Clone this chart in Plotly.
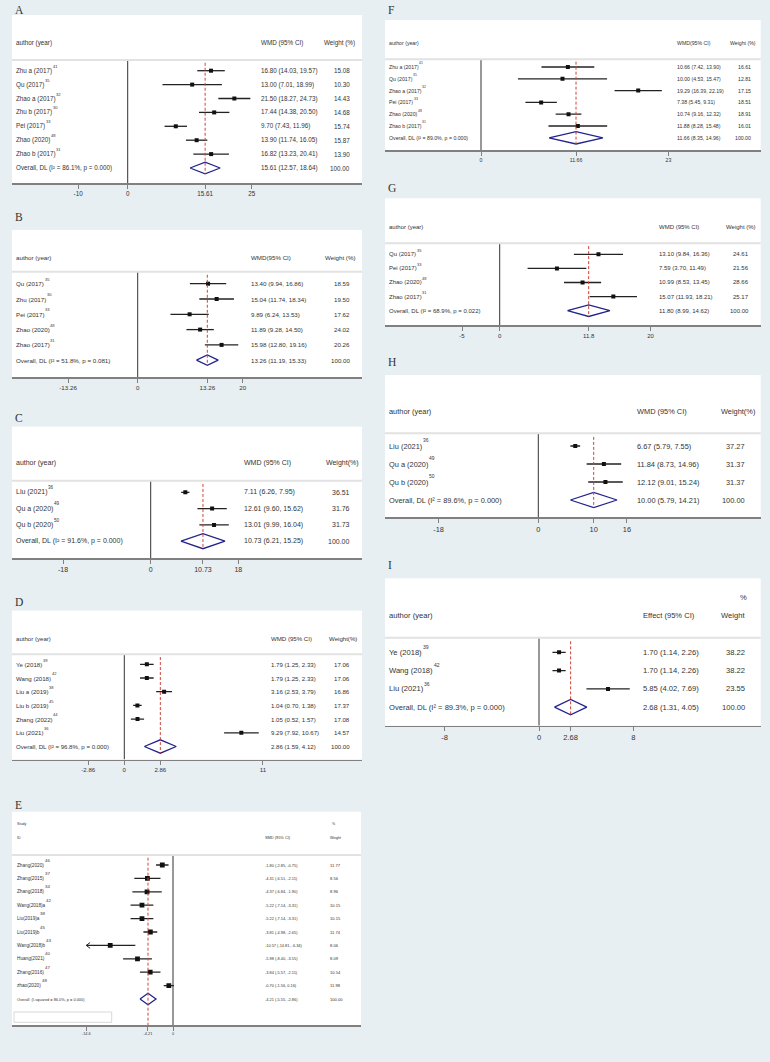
import plotly.graph_objects as go

W, H = 770, 1062

# ------------------------- DATA -------------------------
A_labels = ["Zhu a (2017)", "Qu (2017)", "Zhao a (2017)", "Zhu b (2017)", "Pei (2017)", "Zhao (2020)", "Zhao b (2017)"]
A_refs = [41, 35, 32, 30, 33, 48, 31]
A_est = [16.80, 13.00, 21.50, 17.44, 9.70, 13.90, 16.82]
A_lo = [14.03, 7.01, 18.27, 14.38, 7.43, 11.74, 13.23]
A_hi = [19.57, 18.99, 24.73, 20.50, 11.96, 16.05, 20.41]
A_wt = [15.08, 10.30, 14.43, 14.68, 15.74, 15.87, 13.90]
A_overall = [15.61, 12.57, 18.64]
A_stats = ["86.1%", "0.000"]
A_ticks = [-10, 0, 15.61, 25]
A_ticktext = ["-10", "0", "15.61", "25"]

B_labels = ["Qu (2017)", "Zhu (2017)", "Pei (2017)", "Zhao (2020)", "Zhao (2017)"]
B_refs = [35, 30, 33, 48, 31]
B_est = [13.40, 15.04, 9.89, 11.89, 15.98]
B_lo = [9.94, 11.74, 6.24, 9.28, 12.80]
B_hi = [16.86, 18.34, 13.53, 14.50, 19.16]
B_wt = [18.59, 19.50, 17.62, 24.02, 20.26]
B_overall = [13.26, 11.19, 15.33]
B_stats = ["51.8%", "0.081"]
B_ticks = [-13.26, 0, 13.26, 20]
B_ticktext = ["-13.26", "0", "13.26", "20"]

C_labels = ["Liu (2021)", "Qu a (2020)", "Qu b (2020)"]
C_refs = [36, 49, 50]
C_est = [7.11, 12.61, 13.01]
C_lo = [6.26, 9.60, 9.99]
C_hi = [7.95, 15.62, 16.04]
C_wt = [36.51, 31.76, 31.73]
C_overall = [10.73, 6.21, 15.25]
C_stats = ["91.6%", "0.000"]
C_ticks = [-18, 0, 10.73, 18]
C_ticktext = ["-18", "0", "10.73", "18"]

D_labels = ["Ye (2018)", "Wang (2018)", "Liu a (2019)", "Liu b (2019)", "Zhang (2022)", "Liu (2021)"]
D_refs = [39, 42, 38, 45, 44, 36]
D_est = [1.79, 1.79, 3.16, 1.04, 1.05, 9.29]
D_lo = [1.25, 1.25, 2.53, 0.70, 0.52, 7.92]
D_hi = [2.33, 2.33, 3.79, 1.38, 1.57, 10.67]
D_wt = [17.06, 17.06, 16.86, 17.37, 17.08, 14.57]
D_overall = [2.86, 1.59, 4.12]
D_stats = ["96.8%", "0.000"]
D_ticks = [-2.86, 0, 2.86, 11]
D_ticktext = ["-2.86", "0", "2.86", "11"]

E_labels = ["Zhang(2020)", "Zhang(2015)", "Zhang(2018)", "Wang(2018)a", "Liu(2019)a",
            "Liu(2019)b", "Wang(2018)b", "Huang(2021)", "Zhang(2016)", "zhao(2020)"]
E_refs = [46, 37, 34, 42, 38, 45, 43, 40, 47, 48]
E_est = [-1.80, -4.31, -4.37, -5.22, -5.22, -3.81, -10.57, -5.98, -3.84, -0.70]
E_lo = [-2.85, -6.51, -6.84, -7.14, -7.14, -4.98, -14.81, -8.40, -5.57, -1.56]
E_hi = [-0.75, -2.11, -1.90, -3.31, -3.31, -2.65, -6.34, -3.55, -2.11, 0.16]
E_wt = [11.77, 8.56, 8.96, 10.15, 10.15, 11.74, 8.06, 8.09, 10.54, 11.98]
E_overall = [-4.21, -5.55, -2.86]
E_stats = ["86.0%", "0.000"]
E_ticks = [-14.6, -4.21, 0]
E_ticktext = ["-14.6", "-4.21", "0"]

F_labels = ["Zhu a (2017)", "Qu (2017)", "Zhao a (2017)", "Pei (2017)", "Zhao (2020)", "Zhao b (2017)"]
F_refs = [41, 35, 32, 33, 48, 31]
F_est = [10.66, 10.00, 19.29, 7.38, 10.74, 11.88]
F_lo = [7.42, 4.53, 16.39, 5.45, 9.16, 8.28]
F_hi = [13.90, 15.47, 22.19, 9.31, 12.32, 15.48]
F_wt = [16.61, 12.81, 17.15, 18.51, 18.91, 16.01]
F_overall = [11.66, 8.35, 14.96]
F_stats = ["89.0%", "0.000"]
F_ticks = [0, 11.66, 23]
F_ticktext = ["0", "11.66", "23"]

G_labels = ["Qu (2017)", "Pei (2017)", "Zhao (2020)", "Zhao (2017)"]
G_refs = [35, 33, 48, 31]
G_est = [13.10, 7.59, 10.99, 15.07]
G_lo = [9.84, 3.70, 8.53, 11.93]
G_hi = [16.36, 11.49, 13.45, 18.21]
G_wt = [24.61, 21.56, 28.66, 25.17]
G_overall = [11.80, 8.99, 14.62]
G_stats = ["68.9%", "0.022"]
G_ticks = [-5, 0, 11.8, 20]
G_ticktext = ["-5", "0", "11.8", "20"]

H_labels = ["Liu (2021)", "Qu a (2020)", "Qu b (2020)"]
H_refs = [36, 49, 50]
H_est = [6.67, 11.84, 12.12]
H_lo = [5.79, 8.73, 9.01]
H_hi = [7.55, 14.96, 15.24]
H_wt = [37.27, 31.37, 31.37]
H_overall = [10.00, 5.79, 14.21]
H_stats = ["89.6%", "0.000"]
H_ticks = [-18, 0, 10, 16]
H_ticktext = ["-18", "0", "10", "16"]

I_labels = ["Ye (2018)", "Wang (2018)", "Liu (2021)"]
I_refs = [39, 42, 36]
I_est = [1.70, 1.70, 5.85]
I_lo = [1.14, 1.14, 4.02]
I_hi = [2.26, 2.26, 7.69]
I_wt = [38.22, 38.22, 23.55]
I_overall = [2.68, 1.31, 4.05]
I_stats = ["89.3%", "0.000"]
I_ticks = [-8, 0, 2.68, 8]
I_ticktext = ["-8", "0", "2.68", "8"]

# ------------------------- LAYOUT GEOMETRY (pixels) -------------------------
geo = {
    "A": dict(L=12, R=362, T=15, B=183, lab=10.3, hdr=43, sep=60, r0=70.7, sp=13.9, x0=127.7, kx=4.96,
              ci=259, wr=352, hwr=357, fs=6.3, dh=5.9),
    "B": dict(L=12, R=362, T=230, B=377, lab=217, hdr=257.3, sep=271.7, r0=283.7, sp=15.3, x0=137.7, kx=5.25,
              ci=249.3, wr=352, hwr=358, fs=6.2, dh=5.2),
    "C": dict(L=12, R=362, T=426.7, B=558.3, lab=418.3, hdr=462.7, sep=480.7, r0=492.3, sp=16.3, x0=150.7, kx=4.87,
              ci=242, wr=352, hwr=361, fs=7.0, dh=7.5),
    "D": dict(L=12, R=362, T=610.7, B=759.5, lab=602.3, hdr=638.3, sep=654.3, r0=664.3, sp=13.7, x0=124.3, kx=12.6,
              ci=269.3, wr=352.3, hwr=359, fs=6.1, dh=6.7),
    "E": dict(L=12, R=361, T=811.7, B=1025, lab=804.5, hdr=837.7, hdr2=824.3, sep=855, r0=865, sp=13.4, x0=173, kx=5.94,
              ci=263.3, wl=328.3, fs=3.9, lfs=4.7, wfs=4.1, hfs=3.6, dh=5.8),
    "F": dict(L=385, R=760.7, T=20, B=150, lab=10, hdr=43.3, sep=59.3, r0=67, sp=11.8, x0=481, kx=8.15,
              ci=675, wr=752.7, hwr=757.7, fs=5.2, dh=6.2),
    "G": dict(L=385, R=760.7, T=198.3, B=325, lab=188, hdr=226.7, sep=243.3, r0=254.3, sp=14.1, x0=499.7, kx=7.54,
              ci=657.3, wr=751, hwr=758.3, fs=6.0, dh=5.8),
    "H": dict(L=385, R=760.7, T=375, B=517.3, lab=362, hdr=411.7, sep=433.3, r0=446, sp=18, x0=538.3, kx=5.54,
              ci=635, wr=747.3, hwr=756.7, fs=7.4, dh=7.5),
    "I": dict(L=385, R=760.7, T=578.3, B=725.7, lab=565, hdr=615.7, hdr2=597.3, sep=637.7, r0=652.3, sp=18.3, x0=539, kx=11.8,
              ci=641, wr=747.3, hwr=746.7, fs=7.6, dh=7.7),
}

panels = [
    ("A", A_labels, A_refs, A_est, A_lo, A_hi, A_wt, A_overall, A_stats, A_ticks, A_ticktext, "WMD (95% CI)", "Weight (%)"),
    ("B", B_labels, B_refs, B_est, B_lo, B_hi, B_wt, B_overall, B_stats, B_ticks, B_ticktext, "WMD(95% CI)", "Weight (%)"),
    ("C", C_labels, C_refs, C_est, C_lo, C_hi, C_wt, C_overall, C_stats, C_ticks, C_ticktext, "WMD (95% CI)", "Weight(%)"),
    ("D", D_labels, D_refs, D_est, D_lo, D_hi, D_wt, D_overall, D_stats, D_ticks, D_ticktext, "WMD (95% CI)", "Weight(%)"),
    ("E", E_labels, E_refs, E_est, E_lo, E_hi, E_wt, E_overall, E_stats, E_ticks, E_ticktext, "SMD (95% CI)", "Weight"),
    ("F", F_labels, F_refs, F_est, F_lo, F_hi, F_wt, F_overall, F_stats, F_ticks, F_ticktext, "WMD(95% CI)", "Weight (%)"),
    ("G", G_labels, G_refs, G_est, G_lo, G_hi, G_wt, G_overall, G_stats, G_ticks, G_ticktext, "WMD (95% CI)", "Weight (%)"),
    ("H", H_labels, H_refs, H_est, H_lo, H_hi, H_wt, H_overall, H_stats, H_ticks, H_ticktext, "WMD (95% CI)", "Weight(%)"),
    ("I", I_labels, I_refs, I_est, I_lo, I_hi, I_wt, I_overall, I_stats, I_ticks, I_ticktext, "Effect (95% CI)", "Weight"),
]

SANS = "Liberation Sans, Arial, sans-serif"
SERIF = "Liberation Serif, Times New Roman, serif"
TXT = "#333333"
BG = "#e8eff2"
NAVY = "#23238e"
RED = "#d0443a"

# Arial / Liberation Sans advance widths (per 1000 em) for measuring label lengths
AW = {" ": 278, "(": 333, ")": 333, "Z": 611, "Q": 778, "P": 667, "L": 556, "Y": 667, "W": 944, "H": 722,
      "a": 556, "b": 556, "e": 556, "g": 556, "h": 556, "i": 222, "n": 556, "o": 556, "u": 556, "z": 500}


def text_w(s, size):
    return sum(AW.get(c, 556) for c in s) / 1000 * size


fig = go.Figure()
layout = dict(width=W, height=H, margin=dict(l=0, r=0, t=0, b=0),
              paper_bgcolor=BG, plot_bgcolor="white", showlegend=False,
              font=dict(family=SANS, color=TXT))
shapes, annots = [], []


def px(x):
    return x / W


def py(y):
    return 1 - y / H


for i, (key, labels, refs, est, lo, hi, wt, ov, stats, ticks, ticktext, hci, hw) in enumerate(panels, start=1):
    g = geo[key]
    n = len(est)
    sfx = "" if i == 1 else str(i)
    xr, yr = "x" + sfx, "y" + sfx

    def yv(p, g=g):
        return (p - g["r0"]) / g["sp"]

    xmin = (g["L"] - g["x0"]) / g["kx"]
    xmax = (g["R"] - g["x0"]) / g["kx"]
    layout["xaxis" + sfx] = dict(domain=[px(g["L"]), px(g["R"])], range=[xmin, xmax], anchor=yr,
                                 showline=True, linecolor="#808080", linewidth=1.5, ticks="outside",
                                 ticklen=4, tickwidth=1, tickcolor="#808080", tickvals=ticks, ticktext=ticktext,
                                 tickfont=dict(family=SANS, size=g["fs"], color=TXT), showgrid=False,
                                 zeroline=False, fixedrange=True)
    layout["yaxis" + sfx] = dict(domain=[py(g["B"]), py(g["T"])], range=[yv(g["B"]), yv(g["T"])],
                                 anchor=xr, visible=False, showgrid=False, zeroline=False, fixedrange=True)

    clip = min(ticks) if key == "E" else None
    # CI lines
    xs, ys = [], []
    for k in range(n):
        l = lo[k] if clip is None else max(lo[k], clip)
        xs += [l, hi[k], None]
        ys += [k, k, None]
        if clip is not None and lo[k] < clip:
            for dy in (-0.3, 0.3):
                annots.append(dict(x=clip, y=k, ax=clip + 0.9, ay=k + dy, xref=xr, yref=yr, axref=xr, ayref=yr,
                                   showarrow=True, arrowhead=0, arrowwidth=1, arrowcolor="#222", text=""))
    fig.add_trace(go.Scatter(x=xs, y=ys, mode="lines", line=dict(color="#222222", width=1.3),
                             xaxis=xr, yaxis=yr, hoverinfo="skip"))
    fig.add_trace(go.Scatter(x=est, y=list(range(n)), mode="markers",
                             marker=dict(symbol="square", size=4.8 if key == "E" else 4, color="#111111"),
                             xaxis=xr, yaxis=yr))
    # diamond
    h = g["dh"] / g["sp"]
    fig.add_trace(go.Scatter(x=[ov[1], ov[0], ov[2], ov[0], ov[1]], y=[n, n - h, n, n + h, n],
                             mode="lines", line=dict(color=NAVY, width=1.3), xaxis=xr, yaxis=yr))
    # zero line
    shapes.append(dict(type="line", xref=xr, yref=yr, x0=0, x1=0, y0=yv(g["sep"]), y1=yv(g["B"]),
                       line=dict(color="#333333", width=1)))
    # overall dashed line
    y_end = yv(g["B"]) if key == "E" else n + h
    shapes.append(dict(type="line", xref=xr, yref=yr, x0=ov[0], x1=ov[0], y0=yv(g["sep"]) + 0.2, y1=y_end,
                       line=dict(color=RED, width=1, dash="3px,2px")))
    # separator
    shapes.append(dict(type="line", xref="paper", yref=yr, x0=px(g["L"]), x1=px(g["R"]),
                       y0=yv(g["sep"]), y1=yv(g["sep"]), line=dict(color="#e2e2e2", width=2)))

    fs = g["fs"]
    f = dict(family=SANS, size=fs, color=TXT)
    lfs = g.get("lfs", fs)
    fl = dict(family=SANS, size=lfs, color=TXT)
    fw = dict(family=SANS, size=g.get("wfs", fs), color=TXT)
    fh = dict(family=SANS, size=g.get("hfs", fs), color=TXT)

    def ann(x, y, text, anchor="left", font=f, yref=yr, yshift=0):
        annots.append(dict(x=x, y=y, xref="paper", yref=yref, text=text, xanchor=anchor, yanchor="middle",
                           showarrow=False, font=font, yshift=yshift))

    # panel label
    ann(px(g["L"] + 1), py(g["lab"]), key, font=dict(family=SERIF, size=11.5, color=TXT), yref="paper")
    # headers
    if key == "E":
        ann(px(g["L"] + 3), yv(g["hdr2"]), "Study", font=fh)
        ann(px(g["L"] + 3), yv(g["hdr"]), "ID", font=fh)
        ann(px(g["wl"] + 1.5), yv(g["hdr2"]), "%", font=fh)
        ann(px(g["wl"]), yv(g["hdr"]), hw, font=fh)
    else:
        ann(px(g["L"] + 2), yv(g["hdr"]), "author (year)")
        ann(px(g["hwr"]), yv(g["hdr"]), hw, anchor="right")
        if key == "I":
            ann(px(g["hwr"] + 2), yv(g["hdr2"]), "%", anchor="right")
    ann(px(g["ci"]), yv(g["hdr"]), hci, font=f)

    # rows
    lab_x = g["L"] + (3.3 if key == "E" else 2)
    sup_fs = 4.4 if key == "E" else 0.66 * fs
    sup_shift = 5 if key == "E" else 0.7 * fs
    ci_txt = [f"{est[k]:.2f} ({lo[k]:.2f}, {hi[k]:.2f})" for k in range(n)]
    ci_txt.append(f"{ov[0]:.2f} ({ov[1]:.2f}, {ov[2]:.2f})")
    w_txt = [f"{w:.2f}" for w in wt] + [f"{100:.2f}"]
    for k in range(n):
        ann(px(lab_x), k, labels[k], font=fl)
        ann(px(lab_x + text_w(labels[k], lfs) + 0.6), k, str(refs[k]),
            font=dict(family=SANS, size=sup_fs, color=TXT), yshift=sup_shift)
    if key == "E":
        ann(px(lab_x), n, f"Overall  (I-squared = {stats[0]}, p = {stats[1]})")
    else:
        ann(px(lab_x), n, f"Overall, DL (I\u00b2 = {stats[0]}, p = {stats[1]})")
    for k in range(n + 1):
        ann(px(g["ci"]), k, ci_txt[k])
        if key == "E":
            ann(px(g["wl"]), k, w_txt[k], font=fw)
        else:
            ann(px(g["wr"]), k, w_txt[k], anchor="right")

# empty legend-like box in panel E
shapes.append(dict(type="rect", xref="paper", yref="paper", x0=px(14), x1=px(111.7), y0=py(1022.3), y1=py(1012),
                   line=dict(color="#d8d8d8", width=1), fillcolor="white"))

layout["shapes"] = shapes
layout["annotations"] = annots
fig.update_layout(**layout)
fig.write_html("out.html", config={"displayModeBar": False, "staticPlot": True},
               post_script="document.body.style.margin='0px';document.body.style.overflow='hidden';")
